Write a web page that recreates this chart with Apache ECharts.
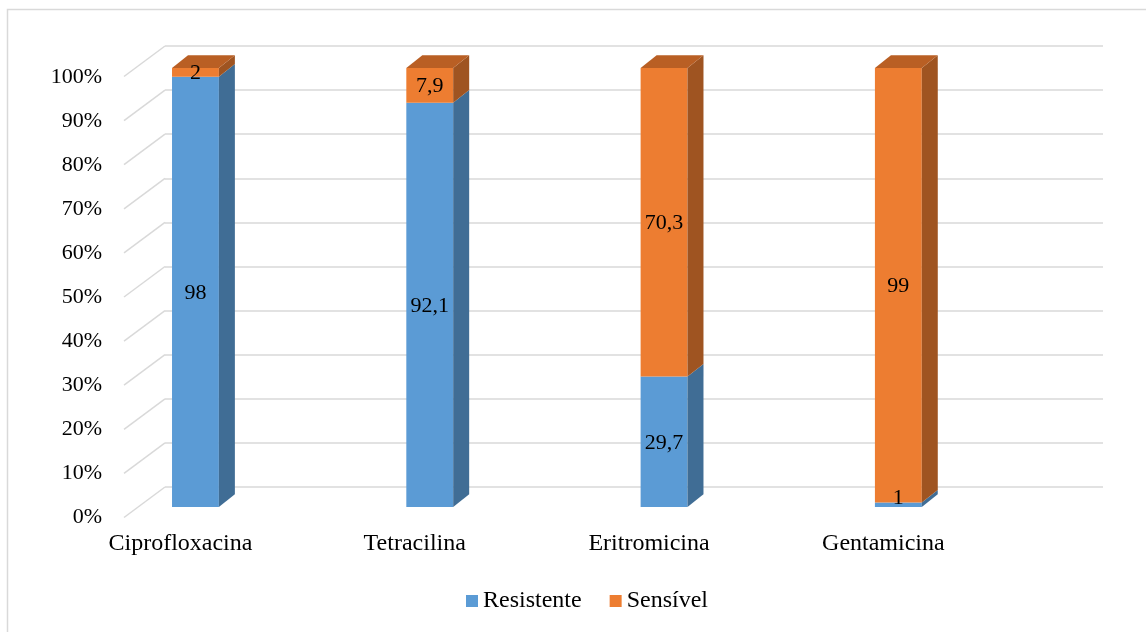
<!DOCTYPE html>
<html>
<head>
<meta charset="utf-8">
<title>Resistência antimicrobiana</title>
<script src="https://cdn.jsdelivr.net/npm/echarts@6/dist/echarts.min.js"></script>
<style>
  html, body { margin: 0; padding: 0; background: #fff; }
  #chart { width: 1146px; height: 632px; }
</style>
</head>
<body>
<div id="chart"></div>
<script>
// Antibiotics on the category axis
const categories = ['Ciprofloxacina', 'Tetracilina', 'Eritromicina', 'Gentamicina'];
// Share of isolates (%) per antibiotic
const resistente = [98, 92.1, 29.7, 1];
const sensivel = [2, 7.9, 70.3, 99];
// Percentage ticks of the value axis
const yTicks = [0, 10, 20, 30, 40, 50, 60, 70, 80, 90, 100];

const FONT = '"Liberation Serif", "Times New Roman", serif';
// Oblique offset of the bar depth and of the floor depth
const BAR_DX = 16, BAR_DY = -12.7;
const WALL_DX = -41, WALL_DY = 30.5;

const colors = {
  Resistente: { front: '#5B9BD5', side: '#406D95', top: '#4C82B3' },
  'Sensível': { front: '#ED7D31', side: '#9F5421', top: '#B95F24' }
};

function fmt(v) { return String(v).replace('.', ','); }

function barRenderer(name, drawTop) {
  const c = colors[name];
  return function (params, api) {
    const cat = api.value(0), base = api.value(1), val = api.value(2);
    const pb = api.coord([cat, base]);
    const pt = api.coord([cat, base + val]);
    const floor = api.coord([cat, 0]);
    const w = api.size([1, 0])[0] * 0.2;
    const x0 = pb[0] - w / 2, x1 = pb[0] + w / 2;
    const yb = pb[1], yt = pt[1];
    const children = [
      { type: 'rect', shape: { x: x0, y: yt, width: w, height: yb - yt }, style: { fill: c.front } },
      { type: 'polygon', shape: { points: [[x1, yb], [x1 + BAR_DX, yb + BAR_DY], [x1 + BAR_DX, yt + BAR_DY], [x1, yt]] }, style: { fill: c.side } }
    ];
    if (drawTop) {
      children.push({ type: 'polygon', shape: { points: [[x0, yt], [x0 + BAR_DX, yt + BAR_DY], [x1 + BAR_DX, yt + BAR_DY], [x1, yt]] }, style: { fill: c.top } });
    }
    // label centred on the front face, kept above the floor
    const ly = Math.min((yb + yt) / 2 + 1, floor[1] - 9);
    children.push({
      type: 'text', z2: 10,
      style: { x: pb[0], y: ly, text: fmt(val), fill: '#000', fontSize: 22, fontFamily: FONT, textAlign: 'center', textVerticalAlign: 'middle' }
    });
    return { type: 'group', children: children };
  };
}

const resData = categories.map((_, i) => [i, 0, resistente[i]]);
const senData = categories.map((_, i) => [i, resistente[i], sensivel[i]]);

const chart = echarts.init(document.getElementById('chart'), null, { renderer: 'canvas' });
chart.setOption({
  backgroundColor: '#fff',
  animation: false,
  graphic: [{
    type: 'rect', silent: true,
    shape: { x: 7.5, y: 9.5, width: 1200, height: 700 },
    style: { fill: 'none', stroke: '#d9d9d9', lineWidth: 1.5 }
  }],
  grid: [
    // back wall
    { left: 165, right: 43, top: 46, height: 441 },
    // front edge of the floor, carries the percentage labels
    { left: 124, right: 84, top: 77, height: 440 },
    // bar plane
    { left: 78.3, width: 937.2, top: 68, height: 439 }
  ],
  xAxis: [
    { gridIndex: 0, type: 'value', min: 0, max: 1, show: false },
    { gridIndex: 1, type: 'value', min: 0, max: 1, show: false },
    {
      gridIndex: 2, type: 'category', data: categories,
      axisLine: { show: false }, axisTick: { show: false },
      axisLabel: { fontSize: 24, fontFamily: FONT, color: '#000', margin: 25, padding: [0, 30, 0, 0] }
    }
  ],
  yAxis: [
    {
      gridIndex: 0, type: 'value', min: 0, max: 100, interval: 10,
      axisLine: { show: false }, axisTick: { show: false }, axisLabel: { show: false },
      splitLine: { lineStyle: { color: '#d9d9d9', width: 1.5 } }
    },
    {
      gridIndex: 1, type: 'value', min: 0, max: 100, interval: 10,
      axisLine: { show: false }, axisTick: { show: false }, splitLine: { show: false },
      axisLabel: { formatter: '{value}%', fontSize: 22, fontFamily: FONT, color: '#000', margin: 22 }
    },
    { gridIndex: 2, type: 'value', min: 0, max: 100, show: false }
  ],
  legend: {
    data: ['Resistente', 'Sensível'],
    left: 466, top: 589, padding: 0,
    icon: 'rect', itemWidth: 12, itemHeight: 12, itemGap: 28,
    textStyle: { fontSize: 24, fontFamily: FONT, color: '#000' }
  },
  series: [
    {
      // floor lines running from the front edge back to the wall
      type: 'custom', xAxisIndex: 0, yAxisIndex: 0, silent: true, z: 1,
      data: yTicks.map(v => [0, v]),
      renderItem: function (params, api) {
        const p = api.coord([api.value(0), api.value(1)]);
        return {
          type: 'line',
          shape: { x1: p[0], y1: p[1], x2: p[0] + WALL_DX, y2: p[1] + WALL_DY },
          style: { stroke: '#d9d9d9', lineWidth: 1.5 }
        };
      }
    },
    {
      name: 'Resistente', type: 'custom', xAxisIndex: 2, yAxisIndex: 2, z: 3,
      itemStyle: { color: colors.Resistente.front },
      encode: { x: 0, y: 2 },
      data: resData,
      renderItem: barRenderer('Resistente', false)
    },
    {
      name: 'Sensível', type: 'custom', xAxisIndex: 2, yAxisIndex: 2, z: 3,
      itemStyle: { color: colors['Sensível'].front },
      encode: { x: 0, y: 2 },
      data: senData,
      renderItem: barRenderer('Sensível', true)
    }
  ]
});
</script>
</body>
</html>
